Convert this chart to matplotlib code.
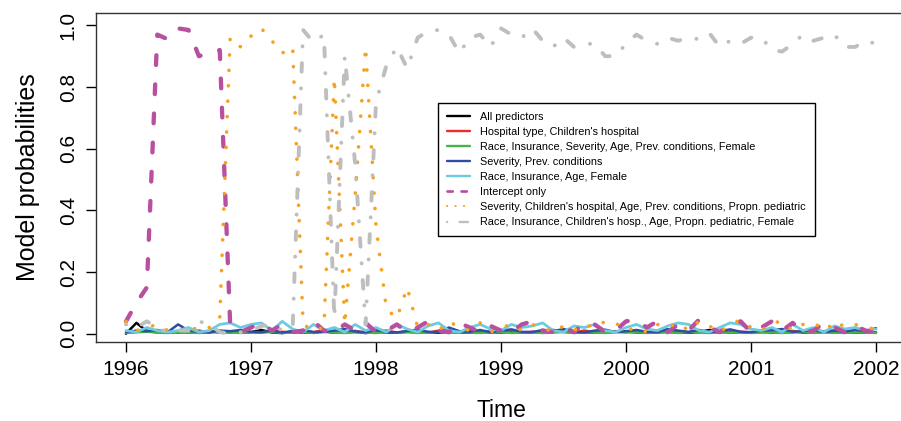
import numpy as np
import matplotlib
matplotlib.use("Agg")
import matplotlib.pyplot as plt
from matplotlib.lines import Line2D

plt.rcParams['font.family'] = ['Liberation Sans', 'DejaVu Sans']
plt.rcParams['lines.scale_dashes'] = False

# monthly time points, Jan 1996 .. Jan 2002
months = np.arange(73)
time = 1996 + months / 12

all_pred = [0.0, 0.035, 0.008, 0.005, 0.004, 0.006, 0.004, 0.003, 0.008, 0.004,
            0.006, 0.003, 0.005, 0.012, 0.004, 0.002, 0.007, 0.003, 0.004, 0.008,
            0.003, 0.005, 0.006, 0.002, 0.006, 0.004, 0.003, 0.007, 0.004, 0.005,
            0.003, 0.006, 0.004, 0.003, 0.008, 0.005, 0.004, 0.006, 0.003, 0.005,
            0.007, 0.012, 0.006, 0.004, 0.005, 0.003, 0.004, 0.006, 0.008, 0.004,
            0.003, 0.005, 0.006, 0.004, 0.003, 0.005, 0.012, 0.006, 0.004, 0.005,
            0.003, 0.006, 0.004, 0.005, 0.007, 0.004, 0.003, 0.006, 0.004, 0.005,
            0.003, 0.004, 0.003]
hosp_type = [0.003, 0.006, 0.01, 0.004, 0.008, 0.003, 0.006, 0.01, 0.004, 0.007,
             0.003, 0.009, 0.005, 0.004, 0.01, 0.006, 0.003, 0.008, 0.005, 0.011,
             0.004, 0.006, 0.009, 0.003, 0.007, 0.01, 0.004, 0.006, 0.008, 0.003,
             0.01, 0.005, 0.004, 0.009, 0.006, 0.003, 0.008, 0.01, 0.004, 0.006,
             0.003, 0.009, 0.007, 0.004, 0.01, 0.005, 0.003, 0.008, 0.006, 0.01,
             0.004, 0.003, 0.009, 0.006, 0.004, 0.01, 0.005, 0.003, 0.008, 0.006,
             0.004, 0.01, 0.007, 0.003, 0.009, 0.005, 0.004, 0.008, 0.01, 0.005,
             0.003, 0.007, 0.004]
race_sev = [0.002, 0.004, 0.006, 0.003, 0.002, 0.005, 0.003, 0.002, 0.004, 0.006,
            0.003, 0.002, 0.004, 0.003, 0.005, 0.002, 0.003, 0.004, 0.002, 0.005,
            0.003, 0.002, 0.004, 0.003, 0.002, 0.005, 0.003, 0.004, 0.002, 0.003,
            0.005, 0.002, 0.004, 0.003, 0.002, 0.004, 0.005, 0.002, 0.003, 0.004,
            0.002, 0.003, 0.005, 0.002, 0.004, 0.003, 0.002, 0.005, 0.003, 0.004,
            0.002, 0.003, 0.004, 0.002, 0.005, 0.003, 0.002, 0.004, 0.003, 0.005,
            0.002, 0.003, 0.004, 0.002, 0.003, 0.005, 0.002, 0.004, 0.003, 0.002,
            0.004, 0.003, 0.002]
sev_prev = [0.005, 0.01, 0.008, 0.012, 0.005, 0.03, 0.01, 0.006, 0.004, 0.01,
            0.008, 0.012, 0.006, 0.005, 0.01, 0.004, 0.008, 0.012, 0.005, 0.006,
            0.01, 0.015, 0.007, 0.005, 0.012, 0.006, 0.004, 0.009, 0.013, 0.006,
            0.005, 0.02, 0.008, 0.006, 0.012, 0.005, 0.01, 0.014, 0.006, 0.005,
            0.012, 0.008, 0.015, 0.006, 0.004, 0.01, 0.013, 0.005, 0.008, 0.012,
            0.006, 0.005, 0.015, 0.01, 0.006, 0.012, 0.005, 0.008, 0.014, 0.006,
            0.005, 0.01, 0.012, 0.015, 0.006, 0.008, 0.012, 0.005, 0.01, 0.006,
            0.013, 0.008, 0.018]
race_ins = [0.01, 0.005, 0.02, 0.01, 0.005, 0.01, 0.02, 0.005, 0.01, 0.03,
            0.035, 0.02, 0.03, 0.035, 0.01, 0.04, 0.015, 0.005, 0.03, 0.01,
            0.02, 0.005, 0.03, 0.01, 0.02, 0.005, 0.03, 0.015, 0.005, 0.025,
            0.035, 0.01, 0.005, 0.02, 0.03, 0.015, 0.01, 0.03, 0.02, 0.025,
            0.035, 0.01, 0.005, 0.025, 0.02, 0.03, 0.01, 0.005, 0.02, 0.03,
            0.015, 0.01, 0.025, 0.035, 0.03, 0.01, 0.005, 0.02, 0.035, 0.03,
            0.015, 0.01, 0.02, 0.005, 0.03, 0.01, 0.02, 0.005, 0.025, 0.015,
            0.02, 0.01, 0.015]
intercept = [0.04, 0.10, 0.15, 0.97, 0.955, 0.99, 0.985, 0.90, 0.91, 0.92,
             0.03, 0.005, 0.02, 0.035, 0.01, 0.03, 0.005, 0.01, 0.04, 0.01,
             0.005, 0.03, 0.01, 0.035, 0.005, 0.01, 0.03, 0.005, 0.02, 0.04,
             0.01, 0.005, 0.035, 0.02, 0.005, 0.025, 0.01, 0.005, 0.03, 0.04,
             0.01, 0.005, 0.02, 0.005, 0.035, 0.03, 0.005, 0.01, 0.04, 0.045,
             0.02, 0.04, 0.005, 0.03, 0.01, 0.045, 0.02, 0.005, 0.03, 0.04,
             0.005, 0.02, 0.04, 0.01, 0.035, 0.005, 0.01, 0.035, 0.02, 0.005,
             0.025, 0.01, 0.005]
sev_child = [0.04, 0.01, 0.02, 0.03, 0.01, 0.005, 0.025, 0.01, 0.02, 0.05,
             0.96, 0.93, 0.965, 0.99, 0.95, 0.91, 0.93, 0.03, 0.01, 0.02,
             0.83, 0.03, 0.45, 0.93, 0.35, 0.08, 0.05, 0.15, 0.02, 0.03,
             0.01, 0.04, 0.02, 0.01, 0.035, 0.005, 0.02, 0.03, 0.01, 0.03,
             0.02, 0.005, 0.025, 0.01, 0.03, 0.02, 0.04, 0.035, 0.01, 0.02,
             0.005, 0.03, 0.02, 0.035, 0.01, 0.04, 0.025, 0.005, 0.03, 0.045,
             0.02, 0.01, 0.035, 0.04, 0.01, 0.03, 0.02, 0.04, 0.01, 0.035,
             0.03, 0.02, 0.015]
race_child = [0.03, 0.02, 0.04, 0.02, 0.005, 0.01, 0.01, 0.04, 0.03, 0.005,
              0.0, 0.005, 0.01, 0.025, 0.03, 0.01, 0.02, 0.985, 0.945, 0.97,
              0.05, 0.9, 0.55, 0.03, 0.75, 0.87, 0.93, 0.86, 0.96, 0.98,
              0.985, 0.97, 0.91, 0.96, 0.97, 0.93, 0.99, 0.97, 0.96, 0.99,
              0.95, 0.93, 0.96, 0.93, 0.94, 0.94, 0.90, 0.90, 0.94, 0.97,
              0.95, 0.94, 0.96, 0.95, 0.96, 0.955, 0.975, 0.93, 0.95, 0.94,
              0.96, 0.96, 0.92, 0.915, 0.94, 0.97, 0.95, 0.96, 0.97, 0.93,
              0.93, 0.95, 0.94]

labels = ["All predictors",
          "Hospital type, Children's hospital",
          "Race, Insurance, Severity, Age, Prev. conditions, Female",
          "Severity, Prev. conditions",
          "Race, Insurance, Age, Female",
          "Intercept only",
          "Severity, Children's hospital, Age, Prev. conditions, Propn. pediatric",
          "Race, Insurance, Children's hosp., Age, Propn. pediatric, Female"]
values = [all_pred, hosp_type, race_sev, sev_prev, race_ins, intercept, sev_child, race_child]
colors = ["#000000", "#ee2a2a", "#46b44a", "#2d4ea3", "#6ccbe0", "#b8509f", "#f7a11c", "#bebebe"]

# plot styles (lw in pt, dashes in pt) and thinner ones for the legend
plot_style = [dict(lw=1.8), dict(lw=1.8), dict(lw=1.6), dict(lw=1.8), dict(lw=2.0),
              dict(lw=3.1, dashes=(7, 14)),
              dict(lw=2.6, dashes=(0.1, 11)),
              dict(lw=2.8, dashes=(0.1, 12, 6.2, 12))]
leg_style = [dict(lw=1.7), dict(lw=1.7), dict(lw=1.7), dict(lw=1.7), dict(lw=1.7),
             dict(lw=1.95, dashes=(3.8, 6.3)),
             dict(lw=1.5, dashes=(0.1, 6)),
             dict(lw=1.7, dashes=(0.1, 9, 6, 9))]

fig = plt.figure(figsize=(9.01, 4.21), dpi=100)
ax = fig.add_axes([96 / 901, 1 - 342 / 421, 810 / 901, 329 / 421])

handles = []
for vals, lab, col, ps, ls in zip(values, labels, colors, plot_style, leg_style):
    ax.plot(time, vals, color=col, solid_capstyle='round', dash_capstyle='round',
            solid_joinstyle='round', dash_joinstyle='round', **ps)
    handles.append(Line2D([], [], color=col, solid_capstyle='round',
                          dash_capstyle='round', **ls))

ax.set_xlim(1995.76, 2002.24)
ax.set_ylim(-0.027, 1.040)
ax.set_xticks(range(1996, 2003))
ax.set_yticks([0.0, 0.2, 0.4, 0.6, 0.8, 1.0])
ax.set_yticklabels(["0.0", "0.2", "0.4", "0.6", "0.8", "1.0"], rotation=90, va='center')
ax.tick_params(length=7.2, width=1.0, labelsize=15, pad=6)
for sp in ax.spines.values():
    sp.set_linewidth(1.0)
    sp.set_color("#333333")

ax.set_xlabel("Time", fontsize=16.5, labelpad=14)
ax.set_ylabel("Model probabilities", fontsize=18)
ax.yaxis.set_label_coords(-0.069, 0.5)

leg = ax.legend(handles, labels, loc='upper left', bbox_to_anchor=(0.4222, 0.7264),
                borderaxespad=0, fontsize=7.8, frameon=True, fancybox=False,
                edgecolor='black', framealpha=1, borderpad=0.8, labelspacing=0.47,
                handlelength=2.2, handletextpad=0.9)
leg.get_frame().set_linewidth(1.0)

fig.savefig("out.png", dpi=100)
